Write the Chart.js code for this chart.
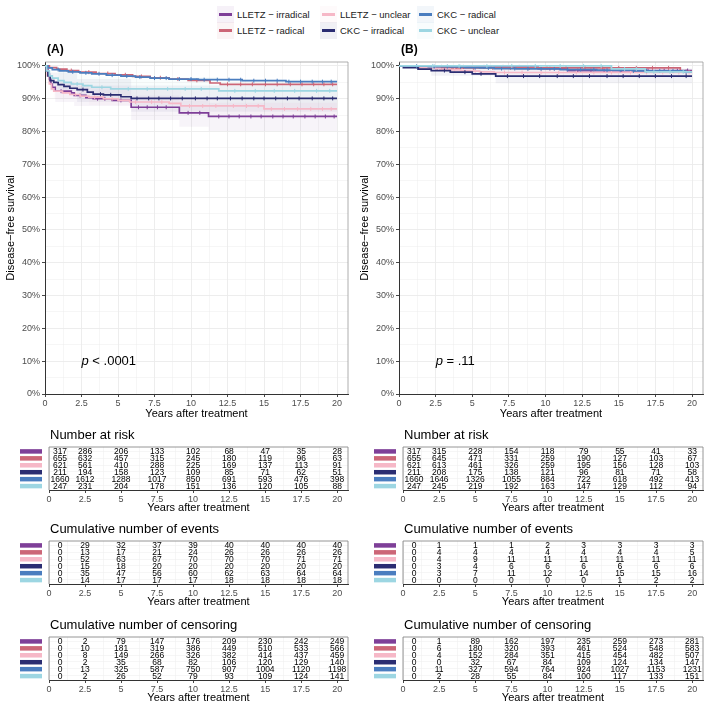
<!DOCTYPE html>
<html>
<head>
<meta charset="utf-8">
<script src="https://cdn.jsdelivr.net/npm/chart.js@4.4.1/dist/chart.umd.min.js"></script>
<style>
  body { margin: 0; background: #fff; width: 709px; height: 709px; position: relative; overflow: hidden;
         font-family: 'Liberation Sans', Arial, sans-serif; }
  canvas { position: absolute; }
  .key { position: absolute; width: 17px; height: 17px; }
  .key span { position: absolute; left: 2px; top: 7px; width: 13px; height: 3px; }
  .lab { position: absolute; font-size: 9.5px; color: #1a1a1a; line-height: 17px; white-space: nowrap; }
</style>
</head>
<body>
<div id="legend"></div>
<canvas id="kmA" width="354" height="385" style="left:0;top:40px"></canvas>
<canvas id="kmB" width="355" height="385" style="left:354px;top:40px"></canvas>
<canvas id="riskA" width="354" height="90" style="left:0;top:425px"></canvas>
<canvas id="riskB" width="355" height="90" style="left:354px;top:425px"></canvas>
<canvas id="eventsA" width="354" height="90" style="left:0;top:519px"></canvas>
<canvas id="eventsB" width="355" height="90" style="left:354px;top:519px"></canvas>
<canvas id="censA" width="354" height="90" style="left:0;top:615px"></canvas>
<canvas id="censB" width="355" height="90" style="left:354px;top:615px"></canvas>
<script>
const FONT = "'Liberation Sans', Arial, sans-serif";

const groups = ['LLETZ − irradical', 'LLETZ − radical', 'LLETZ − unclear', 'CKC − irradical', 'CKC − radical', 'CKC − unclear'];
const colors = ['#7E3F98', '#CC6677', '#F6B8C7', '#2B2D72', '#4A7DBF', '#9DD6E2'];

const tableTimes = [0, 2.5, 5, 7.5, 10, 12.5, 15, 17.5, 20];
const xGrid = [0, 1.25, 2.5, 3.75, 5, 6.25, 7.5, 8.75, 10, 11.25, 12.5, 13.75, 15, 16.25, 17.5, 18.75, 20];
const yGrid = [0, 5, 10, 15, 20, 25, 30, 35, 40, 45, 50, 55, 60, 65, 70, 75, 80, 85, 90, 95, 100];
const xMax = 20.75;
const yMax = 101.2;

// ---- panel A: Kaplan-Meier steps [years, survival %]
const kmA_lletzIrr = [[0,100],[0.1,99],[0.2,97.5],[0.3,96],[0.4,94.5],[0.5,93.5],[0.7,92.3],[1.8,91.8],[2.0,91.0],[2.8,90.3],[3.3,90.0],[4.6,89.5],[5.9,87.4],[9.2,85.7],[11.2,84.6],[20,84.6]];
const kmA_lletzRad = [[0,100],[0.3,99.5],[0.8,99],[1.5,98.6],[2.3,98.1],[3.5,97.7],[4.8,97.3],[6,96.8],[7.2,96.4],[8.5,96],[9.8,95.6],[11.3,94.8],[12,94.4],[20,94.4]];
const kmA_lletzUnc = [[0,100],[0.15,97],[0.3,94.5],[0.45,93],[0.6,92.3],[1.2,91.8],[1.7,91.3],[2.4,90.8],[3.0,90.5],[4.0,90.0],[5.0,89.5],[5.8,89.0],[8.5,88.6],[9.3,87.8],[15,86.9],[20,86.9]];
const kmA_ckcIrr = [[0,100],[0.1,98.5],[0.2,97],[0.35,95.5],[0.6,95],[0.9,94.3],[1.3,93.8],[1.7,93.2],[2.2,92.8],[2.9,92.0],[3.3,91.4],[4.0,91.2],[5.2,90.6],[5.9,90.1],[20,90.1]];
const kmA_ckcRad = [[0,100],[0.2,99.4],[0.5,98.9],[1,98.5],[1.6,98.2],[2.4,97.9],[3.2,97.6],[4.2,97.2],[5.2,96.9],[6.2,96.6],[7.2,96.3],[8.5,96.0],[10.5,95.8],[13.5,95.5],[16.5,95.2],[20,95.2]];
const kmA_ckcUnc = [[0,100],[0.1,98.5],[0.3,97],[0.5,96.3],[0.9,95.5],[1.3,95],[1.8,94.5],[2.6,94],[3.2,93.5],[4.5,93.0],[11.9,92.4],[20,92.4]];

// censoring times (years) panel A
const cenA_lletzIrr = [1.1,2.4,3.6,4.1,5.2,6.4,7.0,7.7,8.3,9.8,10.6,11.9,12.6,13.3,14.1,14.8,15.6,16.3,17.0,17.8,18.5,19.2,19.8];
const cenA_lletzRad = [1.8,3.0,4.3,5.5,6.6,7.9,9.1,10.4,12.5,13.4,14.2,15.1,15.9,16.8,17.6,18.4,19.1,19.7];
const cenA_lletzUnc = [2.1,3.4,4.6,6.2,7.3,8.0,9.9,10.8,11.7,12.9,13.8,14.6,15.5,16.4,17.3,18.2,19.0,19.6];
const cenA_ckcIrr = [2.6,3.8,4.5,6.3,7.1,7.8,8.6,9.4,10.3,11.1,11.8,12.7,13.5,14.3,15.0,15.8,16.6,17.4,18.3,19.1,19.7];
const cenA_ckcRad = [0.9,1.9,2.8,3.7,4.6,5.6,6.5,7.5,8.3,9.2,10.0,10.9,11.8,12.6,13.4,14.3,15.1,15.9,16.7,17.5,18.3,19.0,19.6];
const cenA_ckcUnc = [2.2,3.9,5.7,7.0,8.4,9.6,10.7,13.0,14.4,15.7,17.1,18.6,19.5];

// confidence bands panel A
const bandA_lletzIrrHi = [[0,100],[0.7,95],[2,94],[5.9,91],[9.2,89.5],[11.2,88.8],[20,88.5]];
const bandA_lletzIrrLo = [[0,100],[0.7,89],[2,87.8],[5.9,83.5],[9.2,81.5],[11.2,80.2],[20,79.8]];
const bandA_ckcIrrHi = [[0,100],[0.35,98],[2.2,96],[5.9,94],[20,94]];
const bandA_ckcIrrLo = [[0,100],[0.35,92.5],[2.2,89],[5.9,86],[20,85.8]];
const bandA_lletzUncHi = [[0,100],[0.6,94.5],[3,92.8],[9.3,90.4],[15,89.8],[20,89.8]];
const bandA_lletzUncLo = [[0,100],[0.6,90.1],[3,88.1],[9.3,85.1],[15,83.9],[20,83.9]];
const bandA_ckcUncHi = [[0,100],[0.9,98.2],[3.2,96.6],[11.9,95.9],[20,95.9]];
const bandA_ckcUncLo = [[0,100],[0.9,92.8],[3.2,90.4],[11.9,88.8],[20,88.8]];

// ---- panel B
const kmB_lletzIrr = [[0,100],[1.7,99.7],[9.5,99.2],[11.5,98.6],[20,98.6]];
const kmB_lletzRad = [[0,100],[0.4,99.85],[0.9,99.7],[1.4,99.55],[2.1,99.4],[19.2,98.3],[20,98.3]];
const kmB_lletzUnc = [[0,100],[0.8,99.8],[1.5,99.5],[2.2,99.3],[2.8,99.0],[3.5,98.8],[4.2,98.6],[4.9,98.4],[5.5,98.2],[6.5,98.0],[20,98.0]];
const kmB_ckcIrr = [[0,100],[0.3,99.5],[1.3,99.0],[2.2,98.6],[3.5,98.1],[5.0,97.6],[6.6,96.9],[20,96.9]];
const kmB_ckcRad = [[0,100],[0.8,99.9],[2,99.8],[3.5,99.7],[4.5,99.5],[5.5,99.4],[6.5,99.2],[8,99.1],[11,98.9],[13.5,98.7],[16,98.5],[19.5,98.2],[20,98.2]];
const kmB_ckcUnc = [[0,100],[14.5,99.1],[16.8,98.2],[20,98.2]];

const cenB_lletzIrr = [2.9,4.4,5.8,7.1,8.2,10.3,12.2,13.1,14.0,15.2,16.1,17.0,18.1,19.0,19.7];
const cenB_lletzRad = [2.6,3.9,5.1,6.4,7.6,8.9,10.1,11.4,12.7,13.9,15.0,16.2,17.3,18.4,19.6];
const cenB_lletzUnc = [2.5,3.8,5.2,7.2,8.4,9.7,10.9,12.1,13.3,14.5,15.8,16.9,18.0,19.1,19.8];
const cenB_ckcIrr = [3.1,4.5,5.6,7.4,8.5,9.6,10.8,11.9,13.0,14.2,15.3,16.4,17.5,18.6,19.6];
const cenB_ckcRad = [1.2,2.4,3.3,4.2,5.2,6.1,7.0,7.9,8.8,9.7,10.6,11.5,12.4,13.3,14.2,15.1,16.0,16.9,17.8,18.7,19.6];
const cenB_ckcUnc = [2.3,4.1,6.0,7.7,9.3,11.0,12.6,13.8,15.4,16.2,17.4,18.5,19.4];

const bandB_ckcIrrHi = [[0,100],[2.2,99.8],[6.6,99.2],[20,99.2]];
const bandB_ckcIrrLo = [[0,100],[2.2,97.0],[6.6,94.7],[20,94.6]];
const bandB_lletzUncHi = [[0,100],[2.8,99.7],[6.5,99.1],[20,99.1]];
const bandB_lletzUncLo = [[0,100],[2.8,98.2],[6.5,96.9],[20,96.9]];

// ---- tables (rows in group order, columns = tableTimes)
const riskA = [
  [317,286,206,133,102,68,47,35,28],
  [655,632,457,315,245,180,119,96,63],
  [621,561,410,288,225,169,137,113,91],
  [211,194,158,123,109,85,71,62,51],
  [1660,1612,1288,1017,850,691,593,476,398],
  [247,231,204,178,151,136,120,105,88]
];
const eventsA = [
  [0,29,32,37,39,40,40,40,40],
  [0,13,17,21,24,26,26,26,26],
  [0,52,63,67,70,70,70,71,71],
  [0,15,18,20,20,20,20,20,20],
  [0,35,47,56,60,62,63,64,64],
  [0,14,17,17,17,18,18,18,18]
];
const censorA = [
  [0,2,79,147,176,209,230,242,249],
  [0,10,181,319,386,449,510,533,566],
  [0,8,149,266,326,382,414,437,459],
  [0,2,35,68,82,106,120,129,140],
  [0,13,325,587,750,907,1004,1120,1198],
  [0,2,26,52,79,93,109,124,141]
];
const riskB = [
  [317,315,228,154,118,79,55,41,33],
  [655,645,471,331,259,190,127,103,67],
  [621,613,461,326,259,195,156,128,103],
  [211,208,175,138,121,96,81,71,58],
  [1660,1646,1326,1055,884,722,618,492,413],
  [247,245,219,192,163,147,129,112,94]
];
const eventsB = [
  [0,1,1,1,2,3,3,3,3],
  [0,4,4,4,4,4,4,4,5],
  [0,4,9,11,11,11,11,11,11],
  [0,3,4,6,6,6,6,6,6],
  [0,3,7,11,12,14,15,15,16],
  [0,0,0,0,0,0,1,2,2]
];
const censorB = [
  [0,1,89,162,197,235,259,273,281],
  [0,6,180,320,393,461,524,548,583],
  [0,4,152,284,351,415,454,482,507],
  [0,0,32,67,84,109,124,134,147],
  [0,11,327,594,764,924,1027,1153,1231],
  [0,2,28,55,84,100,117,133,151]
];

const pA = { x: 2.5, y: 10, rest: ' < .0001' };
const pB = { x: 2.5, y: 10, rest: ' = .11' };

// ---------------------------------------------------------------
function rgba(hex, a) {
  const n = parseInt(hex.slice(1), 16);
  return 'rgba(' + (n >> 16) + ',' + ((n >> 8) & 255) + ',' + (n & 255) + ',' + a + ')';
}

function survAt(km, t) {
  let s = km[0][1];
  for (const p of km) { if (p[0] <= t) s = p[1]; }
  return s;
}

// legend
const legend = document.getElementById('legend');
const legendCols = [217, 320, 417];
const legendRows = [6, 22];
const legendOrder = [[0, 1], [2, 3], [4, 5]];
legendOrder.forEach((col, c) => {
  col.forEach((g, r) => {
    const k = document.createElement('div');
    k.className = 'key';
    k.style.left = legendCols[c] + 'px';
    k.style.top = legendRows[r] + 'px';
    k.style.background = rgba(colors[g], 0.07);
    const s = document.createElement('span');
    s.style.background = colors[g];
    k.appendChild(s);
    legend.appendChild(k);
    const l = document.createElement('div');
    l.className = 'lab';
    l.style.left = (legendCols[c] + 20) + 'px';
    l.style.top = legendRows[r] + 'px';
    l.textContent = groups[g];
    legend.appendChild(l);
  });
});

const isMajorX = v => Math.abs(v / 2.5 - Math.round(v / 2.5)) < 1e-6;
const isMajorY = v => v % 10 === 0;

function xAxis(height, titlePadBottom) {
  return {
    type: 'linear', min: 0, max: xMax,
    afterBuildTicks: s => { s.ticks = xGrid.map(v => ({ value: v })); },
    afterFit: s => { s.height = height; },
    grid: {
      color: '#EBEBEB',
      lineWidth: c => (c.tick && isMajorX(c.tick.value) ? 0.9 : 0.45),
      drawTicks: true, tickLength: 3,
      tickColor: c => (c.tick && isMajorX(c.tick.value) ? '#333' : 'rgba(0,0,0,0)')
    },
    border: { display: true, color: '#333', width: 1 },
    ticks: {
      autoSkip: false, maxRotation: 0, padding: 1, color: '#4D4D4D',
      font: { size: 9, family: FONT },
      callback: v => (isMajorX(v) ? String(v) : '')
    },
    title: { display: true, text: 'Years after treatment', color: '#000',
             font: { size: 11, family: FONT }, padding: { top: 0, bottom: titlePadBottom } }
  };
}

const kmDecor = {
  id: 'kmDecor',
  afterDatasetsDraw(chart, args, opts) {
    const ctx = chart.ctx, a = chart.chartArea;
    const xs = chart.scales.x, ys = chart.scales.y;
    ctx.save();
    ctx.strokeStyle = '#9A9A9A';
    ctx.lineWidth = 0.8;
    ctx.beginPath();
    ctx.moveTo(a.left, a.top); ctx.lineTo(a.right, a.top); ctx.lineTo(a.right, a.bottom);
    ctx.stroke();
    ctx.fillStyle = '#000';
    ctx.textBaseline = 'middle';
    ctx.textAlign = 'left';
    ctx.font = 'bold 12px ' + FONT;
    ctx.fillText(opts.label, a.left + 2, a.top - 12);
    const px = xs.getPixelForValue(opts.p.x), py = ys.getPixelForValue(opts.p.y);
    ctx.font = 'italic 13px ' + FONT;
    ctx.fillText('p', px, py);
    const w = ctx.measureText('p').width;
    ctx.font = '13px ' + FONT;
    ctx.fillText(opts.p.rest, px + w, py);
    ctx.restore();
  }
};

function toXY(pts) { return pts.map(p => ({ x: p[0], y: p[1] })); }

function kmChart(id, km, cens, bands, label, p) {
  const ds = [];
  km.forEach((pts, g) => {
    ds.push({ data: toXY(pts), borderColor: colors[g], borderWidth: 1.7, stepped: true,
              pointRadius: 0, fill: false, order: 20 - g * 2 });
    ds.push({ data: cens[g].map(t => ({ x: t, y: survAt(pts, t) })), showLine: false,
              pointStyle: 'line', pointRotation: 90, pointRadius: 2,
              pointBorderColor: colors[g], pointBorderWidth: 1, order: 19 - g * 2 });
  });
  bands.forEach(b => {
    ds.push({ data: toXY(b.hi), borderWidth: 0, pointRadius: 0, stepped: true, fill: '+1',
              backgroundColor: rgba(colors[b.g], 0.06), borderColor: 'rgba(0,0,0,0)', order: 100 });
    ds.push({ data: toXY(b.lo), borderWidth: 0, pointRadius: 0, stepped: true, fill: false,
              borderColor: 'rgba(0,0,0,0)', order: 101 });
  });
  new Chart(document.getElementById(id), {
    type: 'line',
    data: { datasets: ds },
    plugins: [kmDecor],
    options: {
      responsive: false, animation: false, parsing: true,
      layout: { padding: { left: 0, top: 22, right: 6, bottom: 0 } },
      plugins: { legend: { display: false }, tooltip: { enabled: false },
                 kmDecor: { label: label, p: p } },
      scales: {
        x: xAxis(31, 4),
        y: {
          type: 'linear', min: 0, max: yMax,
          afterBuildTicks: s => { s.ticks = yGrid.map(v => ({ value: v })); },
          afterFit: s => { s.width = 45; },
          grid: {
            color: '#EBEBEB',
            lineWidth: c => (c.tick && isMajorY(c.tick.value) ? 0.9 : 0.45),
            drawTicks: true, tickLength: 3,
            tickColor: c => (c.tick && isMajorY(c.tick.value) ? '#333' : 'rgba(0,0,0,0)')
          },
          border: { display: true, color: '#333', width: 1 },
          ticks: { autoSkip: false, padding: 2, color: '#4D4D4D', font: { size: 9, family: FONT },
                   callback: v => (isMajorY(v) ? v + '%' : '') },
          title: { display: true, text: 'Disease−free survival', color: '#000',
                   font: { size: 11, family: FONT }, padding: { top: 4, bottom: 0 } }
        }
      }
    }
  });
}

const tableText = {
  id: 'tableText',
  beforeDatasetsDraw(chart) {
    const ctx = chart.ctx, a = chart.chartArea;
    ctx.save();
    ctx.strokeStyle = '#8A8A8A';
    ctx.lineWidth = 0.9;
    ctx.beginPath();
    ctx.moveTo(a.left, a.bottom); ctx.lineTo(a.left, a.top); ctx.lineTo(a.right, a.top); ctx.lineTo(a.right, a.bottom);
    ctx.stroke();
    ctx.restore();
  },
  afterDatasetsDraw(chart, args, opts) {
    const ctx = chart.ctx, a = chart.chartArea, ys = chart.scales.y;
    ctx.save();
    ctx.font = '8.5px ' + FONT;
    ctx.textAlign = 'center';
    ctx.textBaseline = 'middle';
    ctx.fillStyle = '#000';
    chart.data.datasets.forEach((ds, i) => {
      chart.getDatasetMeta(i).data.forEach((el, j) => {
        // first column sits just inside the box edge, as in the original
        const shift = ds.data[j].x === 0 ? 11 : 0;
        ctx.fillText(String(ds.data[j].v), el.x + shift, el.y + 0.5);
      });
    });
    colors.forEach((c, g) => {
      ctx.fillStyle = c;
      ctx.fillRect(a.left - 29, ys.getPixelForValue(g + 1) - 2, 22, 4.5);
    });
    ctx.fillStyle = '#000';
    ctx.textAlign = 'left';
    ctx.font = '13px ' + FONT;
    ctx.fillText(opts.title, a.left + 1, a.top - 12);
    ctx.restore();
  }
};

function tableChart(id, rows, title) {
  const ds = rows.map((vals, r) => ({
    data: tableTimes.map((t, j) => ({ x: t, y: r + 1, v: vals[j] })),
    showLine: false, pointRadius: 0
  }));
  new Chart(document.getElementById(id), {
    type: 'scatter',
    data: { datasets: ds },
    plugins: [tableText],
    options: {
      responsive: false, animation: false,
      layout: { padding: { left: 0, top: 22, right: 6, bottom: 0 } },
      plugins: { legend: { display: false }, tooltip: { enabled: false }, tableText: { title: title } },
      scales: {
        x: xAxis(25, 0),
        y: {
          type: 'linear', min: 0.4, max: 6.6, reverse: true,
          afterBuildTicks: s => { s.ticks = [1, 2, 3, 4, 5, 6].map(v => ({ value: v })); },
          afterFit: s => { s.width = 49; },
          grid: { color: '#F0F0F0', lineWidth: 0.6, drawTicks: false },
          border: { display: false },
          ticks: { display: false }
        }
      }
    }
  });
}

kmChart('kmA',
  [kmA_lletzIrr, kmA_lletzRad, kmA_lletzUnc, kmA_ckcIrr, kmA_ckcRad, kmA_ckcUnc],
  [cenA_lletzIrr, cenA_lletzRad, cenA_lletzUnc, cenA_ckcIrr, cenA_ckcRad, cenA_ckcUnc],
  [{ g: 0, hi: bandA_lletzIrrHi, lo: bandA_lletzIrrLo },
   { g: 3, hi: bandA_ckcIrrHi, lo: bandA_ckcIrrLo },
   { g: 2, hi: bandA_lletzUncHi, lo: bandA_lletzUncLo },
   { g: 5, hi: bandA_ckcUncHi, lo: bandA_ckcUncLo }],
  '(A)', pA);

kmChart('kmB',
  [kmB_lletzIrr, kmB_lletzRad, kmB_lletzUnc, kmB_ckcIrr, kmB_ckcRad, kmB_ckcUnc],
  [cenB_lletzIrr, cenB_lletzRad, cenB_lletzUnc, cenB_ckcIrr, cenB_ckcRad, cenB_ckcUnc],
  [{ g: 3, hi: bandB_ckcIrrHi, lo: bandB_ckcIrrLo },
   { g: 2, hi: bandB_lletzUncHi, lo: bandB_lletzUncLo }],
  '(B)', pB);

tableChart('riskA', riskA, 'Number at risk');
tableChart('riskB', riskB, 'Number at risk');
tableChart('eventsA', eventsA, 'Cumulative number of events');
tableChart('eventsB', eventsB, 'Cumulative number of events');
tableChart('censA', censorA, 'Cumulative number of censoring');
tableChart('censB', censorB, 'Cumulative number of censoring');
</script>
</body>
</html>
